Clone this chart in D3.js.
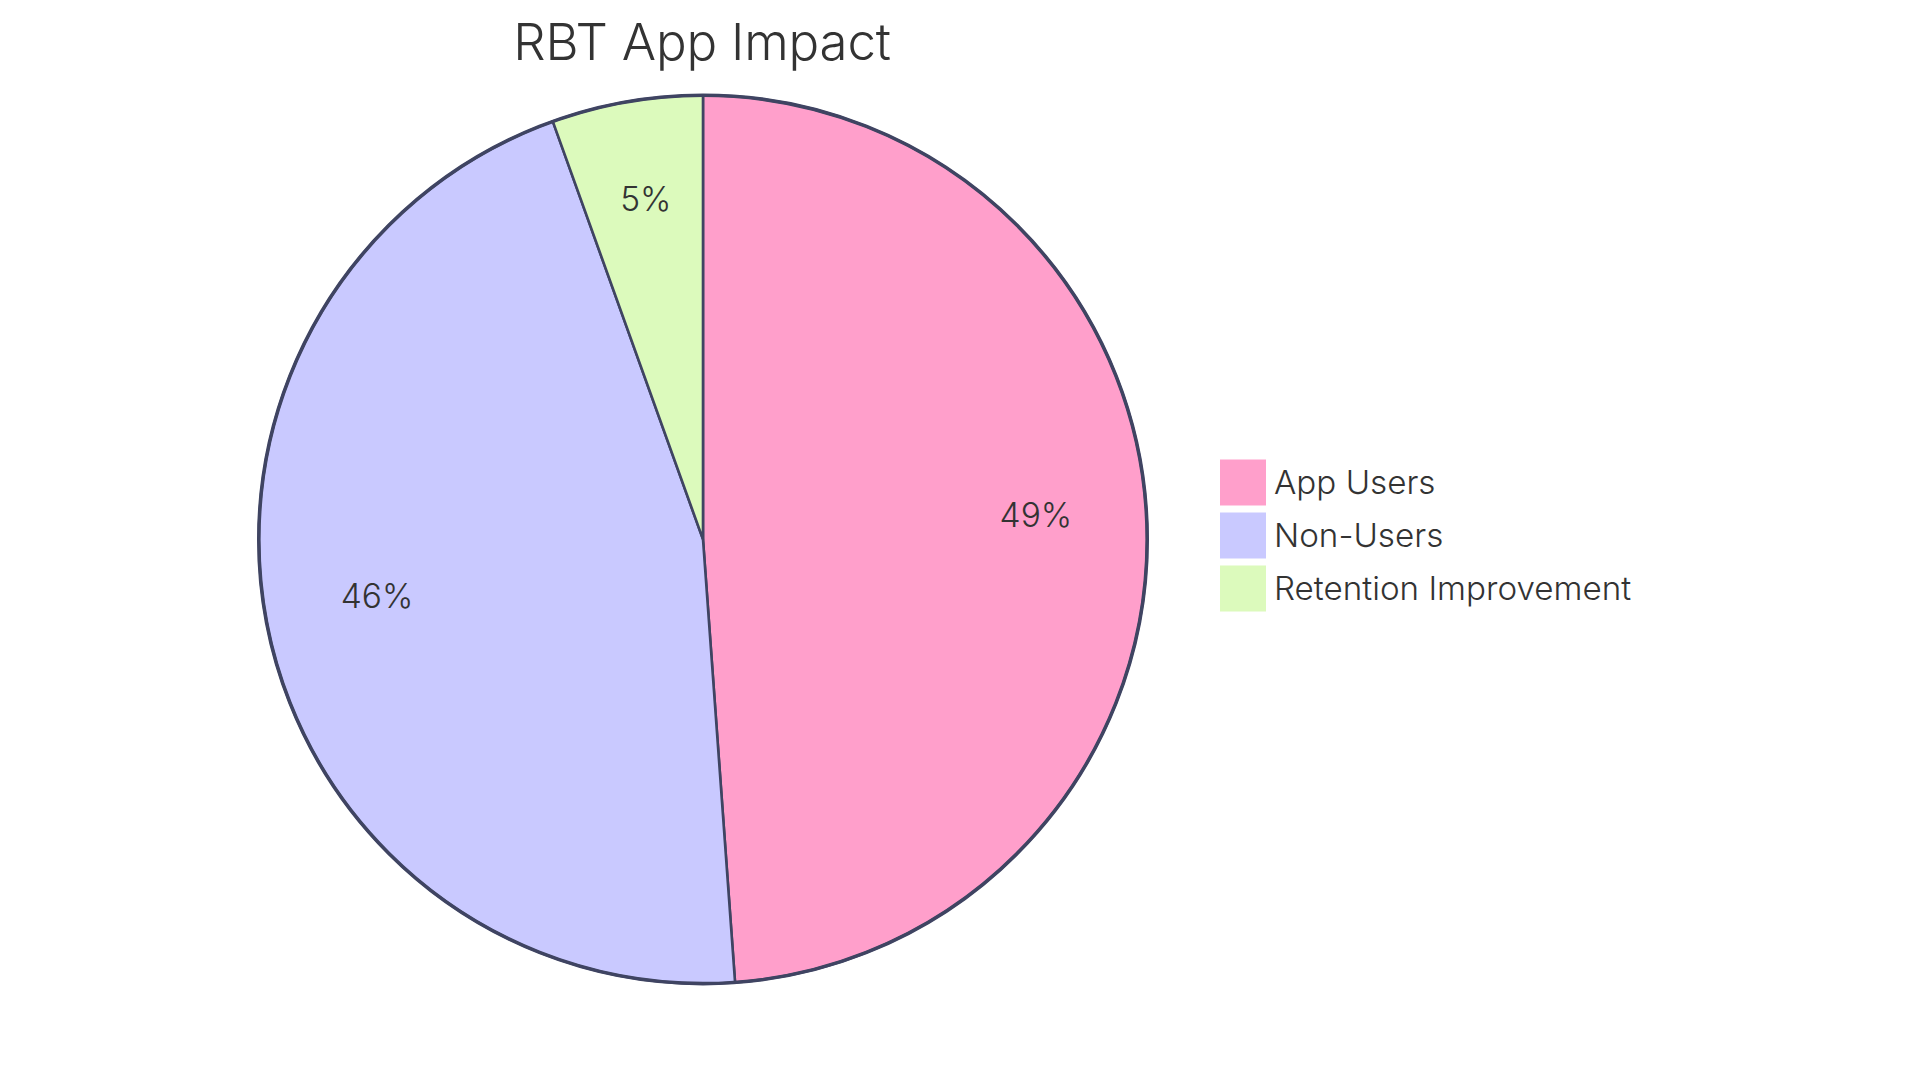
<!DOCTYPE html>
<html><head><meta charset="utf-8">
<script src="https://cdn.jsdelivr.net/npm/d3@7/dist/d3.min.js"></script>
<style>html,body{margin:0;padding:0;background:#fff}svg{display:block}text{font-family:Inter,"Noto Sans",sans-serif;fill:#333}</style>
</head><body><svg id="c" width="1920" height="1083"></svg>
<script>
const titleText = "RBT App Impact";
const categories = ["App Users","Non-Users","Retention Improvement"];
const values = [48.85,45.66,5.49];
const colors = ["#FF9FCB","#C9C9FF","#DCFABC"];
const strokeColor = "#3F4462";

const W=1920,H=1083,cx=703,cy=539.4,R=444.2;
const svg=d3.select("#c").attr("viewBox",`0 0 ${W} ${H}`);
const color=d3.scaleOrdinal().domain(categories).range(colors);
const total=d3.sum(values);
const rows=categories.map((name,i)=>({name,value:values[i]}));
const pie=d3.pie().sort(null).value(d=>d.value);
const arc=d3.arc().innerRadius(0).outerRadius(R);
const labelArc=d3.arc().innerRadius(R*0.75).outerRadius(R*0.75);

svg.append("text").attr("x",cx-1).attr("y",60).attr("text-anchor","middle")
  .attr("font-size",51).attr("font-weight",300).attr("letter-spacing",-0.2).text(titleText);

const g=svg.append("g").attr("transform",`translate(${cx},${cy})`);
g.selectAll("path").data(pie(rows)).join("path")
  .attr("d",arc).attr("fill",d=>color(d.data.name))
  .attr("stroke",strokeColor).attr("stroke-width",2.6);
g.append("circle").attr("r",R).attr("fill","none").attr("stroke",strokeColor).attr("stroke-width",3.6);
g.selectAll("text").data(pie(rows)).join("text")
  .attr("transform",d=>`translate(${labelArc.centroid(d)})`)
  .attr("text-anchor","middle").attr("font-size",33.5).attr("font-weight",300)
  .text(d=>Math.round(d.data.value/total*100)+"%");

const ly=d3.scalePoint().domain(categories).range([459.5,565.5]);
const leg=svg.append("g").selectAll("g").data(categories).join("g")
  .attr("transform",d=>`translate(1220,${ly(d)})`);
leg.append("rect").attr("width",46).attr("height",46).attr("fill",d=>color(d));
leg.append("text").attr("x",54).attr("y",34.5).attr("font-size",33.2).attr("font-weight",300).text(d=>d);
</script></body></html>
